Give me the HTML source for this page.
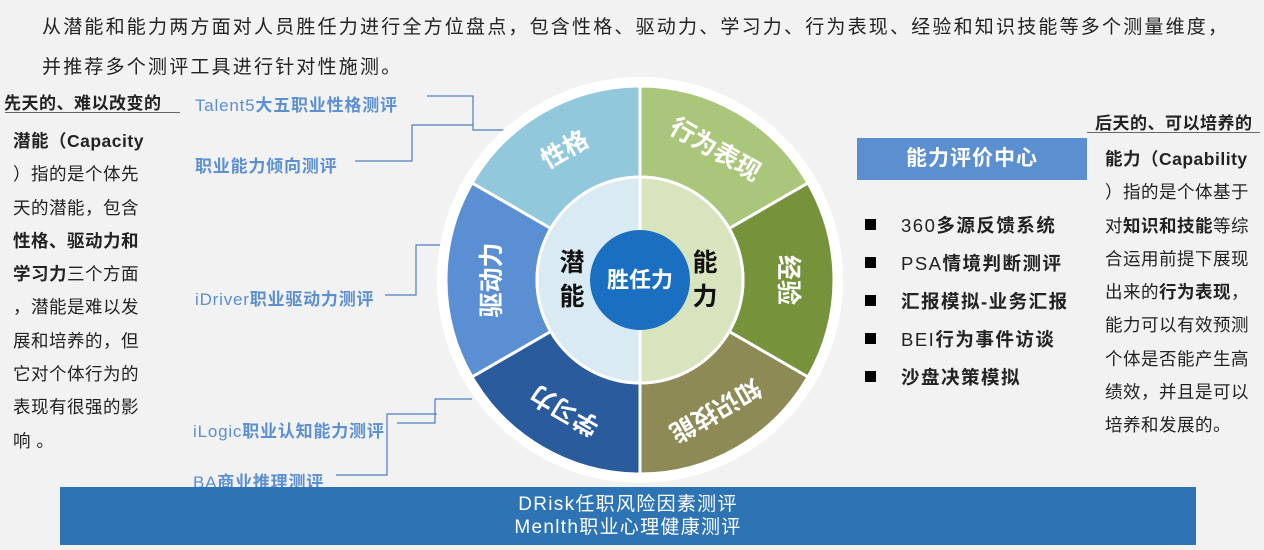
<!DOCTYPE html>
<html><head><meta charset="utf-8"><style>
body{margin:0;width:1264px;height:550px;background:#f2f2f2;position:relative;overflow:hidden;font-family:"Liberation Sans","Noto Sans CJK SC",sans-serif;color:#222}
.a{position:absolute;white-space:nowrap}
.t{font-size:17px;color:#5b8fd0;letter-spacing:0.8px}
.t b{font-weight:bold}
.p{font-size:17.5px;line-height:33.3px;color:#222;letter-spacing:0.5px}
.bl{font-size:18.5px;letter-spacing:1.5px}
.bl span{position:absolute;left:0;top:7px;width:11px;height:11px;background:#000}
</style></head><body>
<div class="a" style="left:42px;top:8px;font-size:19px;letter-spacing:2.2px;line-height:40px;color:#222">从潜能和能力两方面对人员胜任力进行全方位盘点，包含性格、驱动力、学习力、行为表现、经验和知识技能等多个测量维度，<br>并推荐多个测评工具进行针对性施测。</div>

<div class="a" style="left:4px;top:89px;font-size:17px;font-weight:bold;letter-spacing:0.5px">先天的、难以改变的</div>
<div class="a" style="left:5px;top:112px;width:175px;height:1px;background:#666"></div>
<div class="a p" style="left:13px;top:125px;width:140px;white-space:normal"><b>潜能（Capacity</b><br>）指的是个体先<br>天的潜能，包含<br><b>性格、驱动力和</b><br><b>学习力</b>三个方面<br>，潜能是难以发<br>展和培养的，但<br>它对个体行为的<br>表现有很强的影<br>响 。</div>

<div class="a t" style="left:195px;top:91px">Talent5<b>大五职业性格测评</b></div>
<div class="a t" style="left:195px;top:152px"><b>职业能力倾向测评</b></div>
<div class="a t" style="left:195px;top:285px">iDriver<b>职业驱动力测评</b></div>
<div class="a t" style="left:193px;top:417px">iLogic<b>职业认知能力测评</b></div>
<div class="a t" style="left:193px;top:468px">BA<b>商业推理测评</b></div>

<svg class="a" style="left:0;top:0" width="1264" height="550">
<g fill="none" stroke="#4f7fc0" stroke-width="1.2">
<polyline points="427,96 473,96 473,130 520,130"/>
<polyline points="355,161 412,161 412,125 473,125"/>
<polyline points="385,295 416,295 416,245 447,245"/>
<polyline points="397,423 435,423 435,399 472,399"/>
<polyline points="336,475 387,475 387,414 437,414"/>
</g>
<circle cx="640" cy="280" r="203" fill="#fff"/>
<g stroke="#fff" stroke-width="3">
<path d="M640,86 A194,194 0 0 0 472,183 L550.8,228.5 A103,103 0 0 1 640,177Z" fill="#92c8dc"/>
<path d="M472,183 A194,194 0 0 0 472,377 L550.8,331.5 A103,103 0 0 1 550.8,228.5Z" fill="#5a8fd3"/>
<path d="M472,377 A194,194 0 0 0 640,474 L640,383 A103,103 0 0 1 550.8,331.5Z" fill="#2a5b9c"/>
<path d="M640,86 A194,194 0 0 1 808,183 L729.2,228.5 A103,103 0 0 0 640,177Z" fill="#a9c67a"/>
<path d="M808,183 A194,194 0 0 1 808,377 L729.2,331.5 A103,103 0 0 0 729.2,228.5Z" fill="#76933c"/>
<path d="M808,377 A194,194 0 0 1 640,474 L640,383 A103,103 0 0 0 729.2,331.5Z" fill="#8d8a55"/>
<path d="M640,177 A103,103 0 0 0 640,383Z" fill="#d9eaf3"/>
<path d="M640,177 A103,103 0 0 1 640,383Z" fill="#d8e4bd"/>
</g>
<circle cx="640" cy="280" r="50" fill="#1a6fc0"/>
<g fill="#fff" font-size="25" font-weight="bold" text-anchor="middle" dominant-baseline="central" font-family="Liberation Sans, Noto Sans CJK SC, sans-serif">
<text transform="translate(565,150) rotate(-30)">性格</text>
<text transform="translate(492,280) rotate(-90)">驱动力</text>
<text transform="translate(565,410) rotate(-150)">学习力</text>
<text transform="translate(715,150) rotate(30)">行为表现</text>
<text transform="translate(788,280) rotate(90)">经验</text>
<text transform="translate(715,410) rotate(150)">知识技能</text>
<text x="640" y="280" font-size="22">胜任力</text>
</g>
<g fill="#111" font-size="25" font-weight="bold" text-anchor="middle" dominant-baseline="central" font-family="Liberation Sans, Noto Sans CJK SC, sans-serif">
<text x="572" y="263">潜</text><text x="572" y="297">能</text>
<text x="705" y="263">能</text><text x="705" y="297">力</text>
</g>
</svg>

<div class="a" style="left:1095px;top:109px;font-size:17px;font-weight:bold;letter-spacing:0.5px">后天的、可以培养的</div>
<div class="a" style="left:1087px;top:132px;width:173px;height:1px;background:#666"></div>
<div class="a" style="left:857px;top:138px;width:230px;height:42px;background:#5b8fd0;color:#fff;font-size:21px;font-weight:bold;line-height:42px;text-align:center;letter-spacing:1px">能力评价中心</div>
<div class="a bl" style="left:865px;top:212px;padding-left:36px"><span></span>360<b>多源反馈系统</b></div>
<div class="a bl" style="left:865px;top:250px;padding-left:36px"><span></span>PSA<b>情境判断测评</b></div>
<div class="a bl" style="left:865px;top:288px;padding-left:36px"><span></span><b>汇报模拟-业务汇报</b></div>
<div class="a bl" style="left:865px;top:326px;padding-left:36px"><span></span>BEI<b>行为事件访谈</b></div>
<div class="a bl" style="left:865px;top:364px;padding-left:36px"><span></span><b>沙盘决策模拟</b></div>
<div class="a p" style="left:1105px;top:143px"><b>能力（Capability</b><br>）指的是个体基于<br>对<b>知识和技能</b>等综<br>合运用前提下展现<br>出来的<b>行为表现</b>，<br>能力可以有效预测<br>个体是否能产生高<br>绩效，并且是可以<br>培养和发展的。</div>

<div class="a" style="left:60px;top:487px;width:1136px;height:58px;background:#2e74b5;color:#fff;font-size:19px;letter-spacing:1.3px;line-height:23px;text-align:center;padding-top:6px;box-sizing:border-box">DRisk任职风险因素测评<br>Menlth职业心理健康测评</div>
</body></html>
